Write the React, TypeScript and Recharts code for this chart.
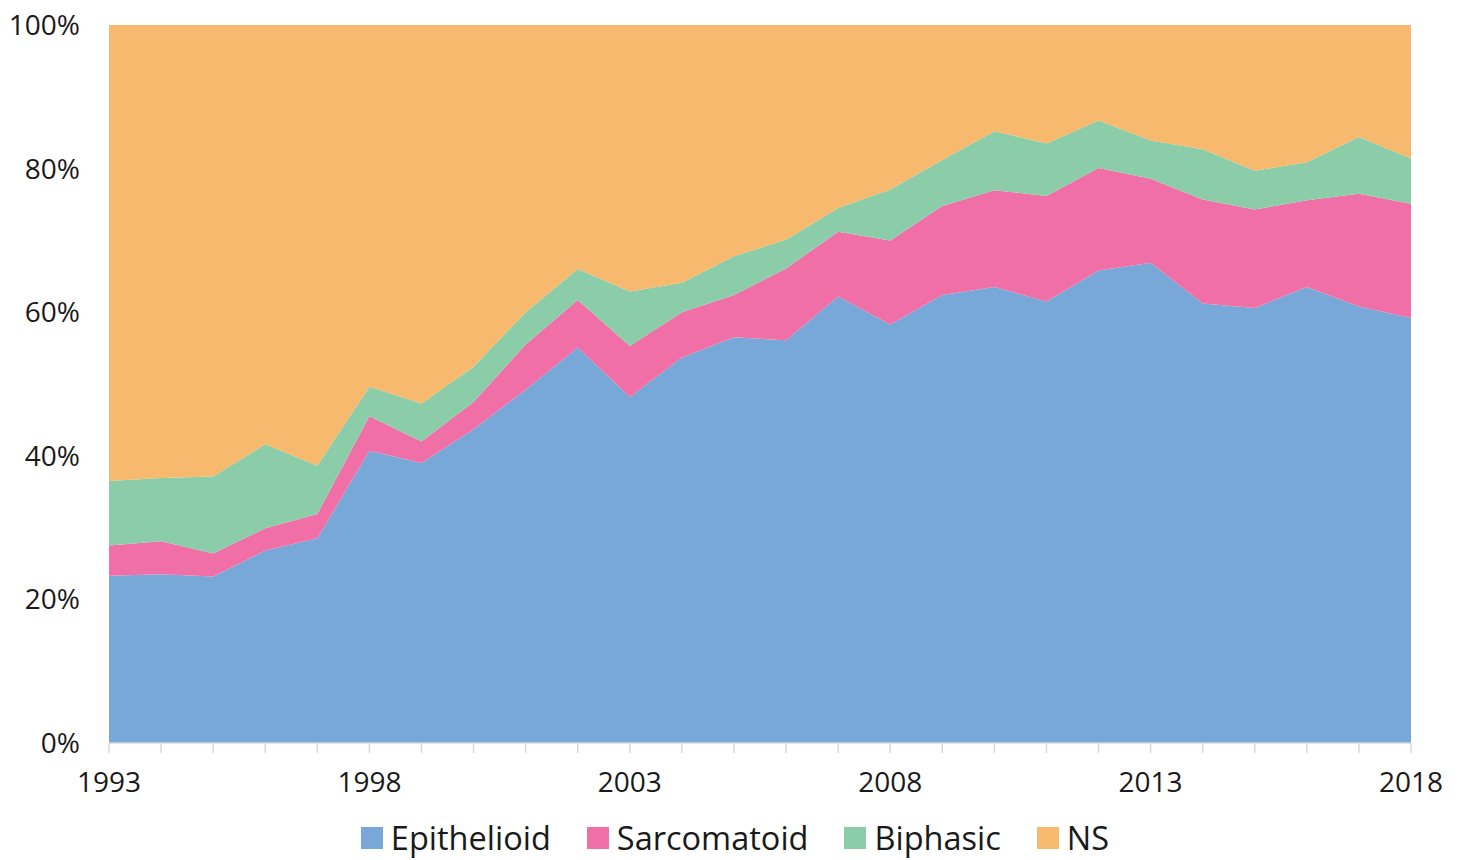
import { AreaChart, Area, XAxis, YAxis } from 'recharts';

// 연도별 조직형 분포(%) — 그림에서 읽은 값, 합계 ≈ 100
const years = [
  1993, 1994, 1995, 1996, 1997, 1998, 1999, 2000, 2001, 2002, 2003, 2004, 2005,
  2006, 2007, 2008, 2009, 2010, 2011, 2012, 2013, 2014, 2015, 2016, 2017, 2018,
];
const epithelioid = [
  23.3, 23.5, 23.2, 26.8, 28.5, 40.7, 39.0, 43.7, 49.2, 55.1, 48.2, 53.7, 56.5,
  56.1, 62.2, 58.3, 62.4, 63.5, 61.5, 65.8, 66.9, 61.2, 60.6, 63.5, 60.8, 59.2,
];
const sarcomatoid = [
  4.2, 4.6, 3.2, 3.1, 3.4, 4.8, 3.0, 3.8, 6.3, 6.6, 7.1, 6.3, 5.9,
  10.0, 9.0, 11.7, 12.4, 13.5, 14.7, 14.3, 11.7, 14.5, 13.7, 12.1, 15.7, 15.9,
];
const biphasic = [
  9.0, 8.8, 10.7, 11.7, 6.7, 4.1, 5.3, 4.9, 4.5, 4.3, 7.6, 4.1, 5.4,
  4.0, 3.3, 7.1, 6.4, 8.2, 7.3, 6.6, 5.3, 7.0, 5.4, 5.3, 7.9, 6.3,
];
const notSpecified = [
  63.5, 63.1, 62.9, 58.4, 61.4, 50.4, 52.7, 47.6, 40.0, 34.0, 37.1, 35.9, 32.2,
  29.9, 25.5, 22.9, 18.8, 14.8, 16.5, 13.3, 16.1, 17.3, 20.3, 19.1, 15.6, 18.6,
];
const yTicks = [0, 0.2, 0.4, 0.6, 0.8, 1];
const labeledYears = [1993, 1998, 2003, 2008, 2013, 2018];

const SERIES = [
  { key: 'Epithelioid', color: '#78A8D8' },
  { key: 'Sarcomatoid', color: '#F06FA7' },
  { key: 'Biphasic', color: '#8ACDA8' },
  { key: 'NS', color: '#F6B96D' },
];

const rows = years.map((y, i) => ({
  year: y,
  Epithelioid: epithelioid[i],
  Sarcomatoid: sarcomatoid[i],
  Biphasic: biphasic[i],
  NS: notSpecified[i],
}));

const FONT = '"Open Sans", "Noto Sans", sans-serif';

export default function App() {
  return (
    <div style={{ position: 'absolute', left: 0, top: 0, width: 1462, height: 860, background: '#fff', fontFamily: FONT }}>
      <AreaChart width={1462} height={860} data={rows} stackOffset="expand" margin={{ top: 25, right: 51, left: 0, bottom: 0 }}>
        <XAxis
          dataKey="year"
          height={117}
          interval={0}
          axisLine={{ stroke: '#D9D9D9', strokeWidth: 1.5 }}
          tickLine={{ stroke: '#D9D9D9', strokeWidth: 1.5 }}
          tickSize={10}
          tickMargin={19}
          tick={{ fontSize: 28, fill: '#1a1a1a', fontFamily: FONT }}
          tickFormatter={(v: number) => (labeledYears.includes(v) ? String(v) : '')}
        />
        <YAxis
          width={109}
          ticks={yTicks}
          domain={[0, 1]}
          axisLine={false}
          tickLine={false}
          tickSize={0}
          tickMargin={29}
          tick={{ fontSize: 28, fill: '#1a1a1a', fontFamily: FONT }}
          tickFormatter={(v: number) => `${Math.round(v * 100)}%`}
        />
        {SERIES.map((s) => (
          <Area
            key={s.key}
            type="linear"
            dataKey={s.key}
            stackId="1"
            stroke="none"
            fill={s.color}
            fillOpacity={1}
            isAnimationActive={false}
            dot={false}
            activeDot={false}
          />
        ))}
      </AreaChart>
      <div
        style={{
          position: 'absolute',
          left: 4,
          top: 815,
          width: 1462,
          display: 'flex',
          justifyContent: 'center',
          gap: 36,
          fontSize: 32.5,
          color: '#1a1a1a',
        }}
      >
        {SERIES.map((s) => (
          <div key={s.key} style={{ display: 'flex', alignItems: 'center', gap: 8 }}>
            <span style={{ width: 22, height: 22, background: s.color, display: 'inline-block' }} />
            <span>{s.key}</span>
          </div>
        ))}
      </div>
    </div>
  );
}
